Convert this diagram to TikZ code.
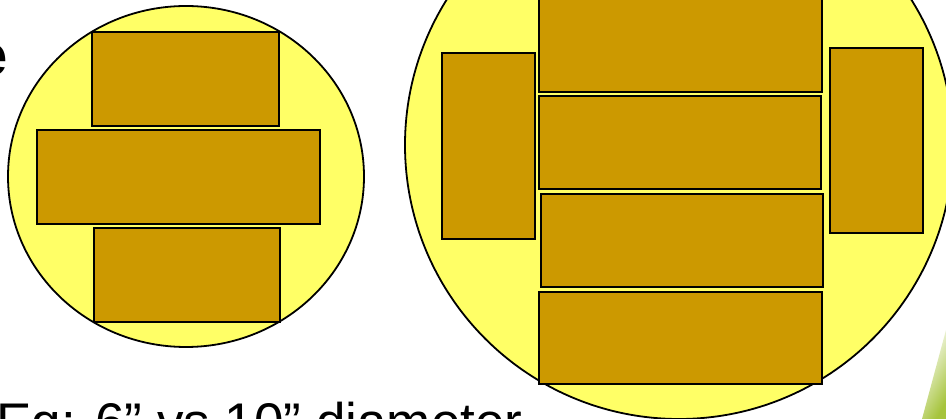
\documentclass[tikz,border=0pt]{standalone}
\usepackage{fontspec}
\setmainfont{Liberation Sans}
\definecolor{disc}{HTML}{FFFF66}
\definecolor{chip}{HTML}{CC9900}
\definecolor{leaf}{HTML}{A6C43C}
\tikzset{
  wafer/.style={fill=disc, draw=black, line width=1.8pt},
  die/.style={fill=chip, draw=black, line width=1.4pt},
  tall/.style={fill=chip, draw=black, line width=2pt},
}
\begin{document}
\begin{tikzpicture}[x=1pt,y=-1pt]
\useasboundingbox (0,0) rectangle (946,419);
\clip (0,0) rectangle (946,419);
% green decoration
\shade[left color=white, right color=leaf, shading angle=60]
  (922,419) -- (946,330) -- (946,419) -- cycle;
% left wafer
\draw[wafer] (186,176.5) ellipse [x radius=178, y radius=170.5];
\draw[die] (92,32) rectangle (279,126);
\draw[die] (37,130) rectangle (320,224);
\draw[die] (94,228) rectangle (280,322);
% right wafer
\draw[wafer] (679,145) circle [radius=274];
\draw[tall] (442,53) rectangle (535,239);
\draw[tall] (830,48) rectangle (923,233);
\draw[die] (539,-2) rectangle (822,92);
\draw[die] (539,96) rectangle (821,189);
\draw[die] (541,194) rectangle (823,287);
\draw[die] (539,292) rectangle (822,384);
% texts
\node[anchor=base west, inner sep=0pt, font=\fontsize{53}{60}\selectfont] (cap) at (-4,441) {Eg: 6” vs 10” diameter};
\node[anchor=base east, inner sep=0pt, font=\fontsize{58}{66}\selectfont\bfseries] (ttl) at (8,75.5) {e};
\end{tikzpicture}
\end{document}
